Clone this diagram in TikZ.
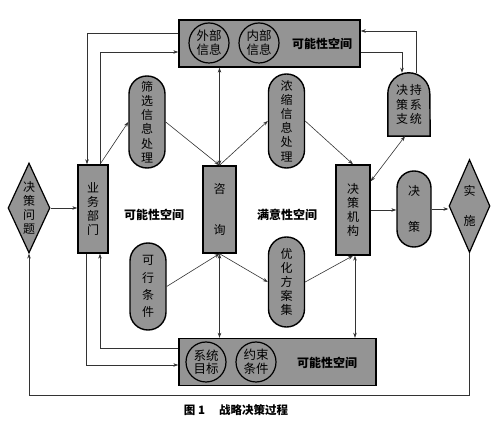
\documentclass[tikz,border=0pt]{standalone}
\usepackage{fontspec}
\newfontfamily\cjk{Noto Sans CJK SC}
\usetikzlibrary{positioning, shapes.geometric, arrows.meta, calc, backgrounds}

\begin{document}
\begin{tikzpicture}[
    x=1pt, y=1pt,
    font=\cjk\fontsize{12}{14.2}\selectfont,
    block/.style={
        rectangle, draw=black, line width=1.4pt, fill=black!42,
        inner sep=0pt, align=center
    },
    pill/.style={block, rounded corners=17.9pt, minimum width=36pt},
    infocircle/.style={
        circle, draw=black, line width=1.2pt, fill=black!42,
        minimum size=40pt, inner sep=0pt, align=center,
        font=\cjk\fontsize{12.5}{13.5}\selectfont
    },
    choice/.style={
        diamond, draw=black, line width=1.2pt, fill=black!42,
        inner sep=0pt, shape aspect=0.45, align=center
    },
    flow/.style={-{Stealth[length=5pt, width=3.5pt]}, line width=0.6pt, black!80},
    twoway/.style={{Stealth[length=5pt, width=3.5pt]}-{Stealth[length=5pt, width=3.5pt]},
        line width=0.6pt, black!80},
    spacelabel/.style={font=\cjk\bfseries\fontsize{12}{14}\selectfont}
]
\useasboundingbox (0,0) rectangle (500,422);

% === Possibility spaces (top and bottom) ===

\node[block, minimum width=181pt, minimum height=47pt] (top) at (269.5,378.5) {};
\node[infocircle] (outer) at (209,379) {外部\\信息};
\node[infocircle] (inner) at (259,379) {内部\\信息};
\node[spacelabel] (toplabel) at (322,378) {可能性空间};

\node[block, minimum width=197pt, minimum height=47pt] (bot) at (277.5,60) {};
\node[infocircle] (goal) at (206,60) {系统\\目标};
\node[infocircle] (limit) at (256,60) {约束\\条件};
\node[spacelabel] (botlabel) at (327,59) {可能性空间};

% === Middle row ===

\node[choice, minimum width=42pt, minimum height=90pt] (dp) at (29,214)
    {决\\策\\问\\题};
\node[block, minimum width=30pt, minimum height=88pt] (bu) at (93,213)
    {业\\务\\部\\门};
\node[pill, minimum height=92pt] (sx) at (147,300)
    {筛\\选\\信\\息\\处\\理};
\node[pill, minimum height=87pt] (kx) at (148,135.5)
    {可\\[3pt]行\\[3pt]条\\[3pt]件};
\node[block, minimum width=33pt, minimum height=87pt] (zx) at (219.5,212.5)
    {咨\\[26pt]询};
\node[pill, minimum height=94pt] (ns) at (286.5,301)
    {浓\\缩\\信\\息\\处\\理};
\node[pill, minimum height=90pt] (yh) at (286.5,140)
    {优\\化\\方\\案\\集};
\node[block, minimum width=34pt, minimum height=90pt] (jg) at (353,212)
    {决\\策\\机\\构};
\node[pill, minimum width=34pt, minimum height=76pt, rounded corners=16.9pt] (jc) at (414,213)
    {决\\[21pt]策};
\node[choice, minimum width=41pt, minimum height=93pt] (ss) at (469.5,216)
    {实\\[15pt]施};

% decision support system (round top)
\node[minimum width=42pt, minimum height=63pt, inner sep=0pt, align=center] (dss)
    at (409,317.5) {决\hspace{2pt}持\\策\hspace{2pt}系\\支\hspace{2pt}统};
\begin{scope}[on background layer]
\draw[line width=1.4pt, fill=black!42] (dss.south west)
    -- ([yshift=-21pt]dss.north west) arc[start angle=180, end angle=0, radius=21pt]
    -- (dss.south east) -- cycle;
\end{scope}

% space labels
\node[spacelabel] (plabel) at (154,207) {可能性空间};
\node[spacelabel] (mlabel) at (287,207) {满意性空间};

% caption
\node[font=\cjk\bfseries\fontsize{11.5}{13}\selectfont] (caption) at (236,12)
    {图 1\hspace{14pt}战略决策过程};

% === Connectors ===

\draw[flow] (dp.east) -- (dp.east -| bu.west);
\draw[flow] ([xshift=7pt]bu.north) -- (sx.west);
\draw[flow] (sx.east) -- (zx.north);
\draw[twoway] (zx.north) -- (zx.north |- top.south);
\draw[flow] (zx.north) -- (ns.west);
\draw[flow] (ns.east) -- (jg.north);
\draw[twoway] ([yshift=-17pt]jg.north east) -- ([xshift=-4pt]dss.south);
\draw[flow] ([xshift=7pt]dss.north) |- ([yshift=12.5pt]top.east);
\draw[flow] ([yshift=-8.5pt]top.east) -| ([xshift=-7pt]dss.north);
\draw[flow] ([yshift=10.5pt]top.west) -| ([xshift=-6pt]bu.north);
\draw[flow] ([xshift=7pt]bu.north) |- ([yshift=-8.5pt]top.west);

\draw[flow] ([xshift=-7pt]bu.south) |- ([yshift=-3pt]bot.west);
\draw[flow] ([yshift=14pt]bot.west) -| ([xshift=7pt]bu.south);
\draw[twoway] (zx.south) -- (zx.south |- bot.north);
\draw[flow] (kx.east) -- (zx.south);
\draw[flow] (zx.south) -- (yh.west);
\draw[flow] (yh.east) -- (jg.south);
\draw[twoway] ([xshift=2pt]jg.south) -- ([xshift=2pt]jg.south |- bot.north);

\draw[flow] (jg.east) -- (jg.east -| jc.west);
\draw[flow] (jc.east) -- (jc.east -| ss.west);
\coordinate (low) at (0,27);
\draw[flow] (ss.south) -- (ss.south |- low) -| (dp.south);

\end{tikzpicture}
\end{document}
